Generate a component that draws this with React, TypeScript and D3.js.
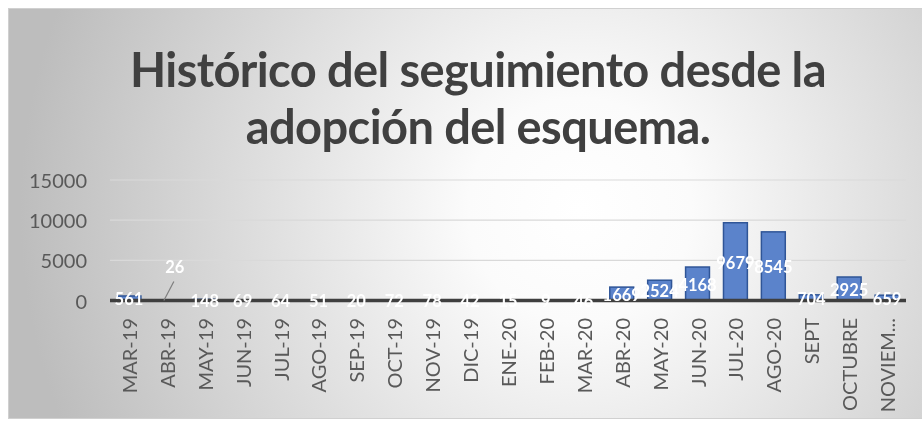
import React from 'react';
import * as d3 from 'd3';

const MONTHS = [
  'MAR-19', 'ABR-19', 'MAY-19', 'JUN-19', 'JUL-19', 'AGO-19', 'SEP-19', 'OCT-19',
  'NOV-19', 'DIC-19', 'ENE-20', 'FEB-20', 'MAR-20', 'ABR-20', 'MAY-20', 'JUN-20',
  'JUL-20', 'AGO-20', 'SEPT', 'OCTUBRE', 'NOVIEM...',
];

const SEGUIMIENTOS = [
  561, 26, 148, 69, 64, 51, 20, 72, 78, 42, 15, 9, 46, 1669, 2524, 4168,
  9679, 8545, 704, 2925, 659,
];

const Y_TICKS = [0, 5000, 10000, 15000];

const TITLE_LINES = ['Histórico del seguimiento desde la', 'adopción del esquema.'];

// labels pulled out of the bar with a leader line
const CALLOUTS = ['ABR-19'];

const FONT = 'Lato, "Open Sans", sans-serif';

export default function App() {
  const left = 110;
  const right = 906;
  const x = d3.scaleBand<string>()
    .domain(MONTHS)
    .range([left, right])
    .paddingInner(0.37)
    .paddingOuter(0.185);
  const y = d3.scaleLinear().domain([0, 15000]).range([300.5, 180]);
  const y0 = y(0);

  const bars = MONTHS.map((m, i) => {
    const v = SEGUIMIENTOS[i];
    return (
      <rect
        key={m}
        x={x(m)}
        y={y(v)}
        width={x.bandwidth()}
        height={y0 - y(v)}
        fill="#5B83CB"
        stroke="#2F5597"
        strokeWidth={1.5}
      />
    );
  });

  const labels = MONTHS.map((m, i) => {
    const v = SEGUIMIENTOS[i];
    const cx = (x(m) as number) + x.bandwidth() / 2;
    if (CALLOUTS.includes(m)) {
      return (
        <g key={m}>
          <line x1={cx - 3} y1={y0} x2={cx + 7} y2={y0 - 19} stroke="#7f7f7f" strokeWidth={1.2} />
          <text x={cx + 8} y={y0 - 34} textAnchor="middle" dominantBaseline="central"
            fill="#ffffff" fontWeight="bold" fontSize={16.5}>{v}</text>
        </g>
      );
    }
    return (
      <text key={m} x={cx} y={(y(v) + y0) / 2 + 1} textAnchor="middle" dominantBaseline="central"
        fill="#ffffff" fontWeight="bold" fontSize={16.5}>{v}</text>
    );
  });

  return (
    <div style={{ position: 'fixed', left: 0, top: 0, width: 922, height: 421 }}>
      <svg width={922} height={421} style={{ display: 'block', fontFamily: FONT }}>
        <defs>
          <radialGradient id="bg" gradientUnits="userSpaceOnUse" cx={580} cy={210} r={560}>
            <stop offset="0" stopColor="#ffffff" />
            <stop offset="0.2" stopColor="#fbfbfb" />
            <stop offset="1" stopColor="#bdbdbd" />
          </radialGradient>
        </defs>
        <rect x={8.5} y={8.5} width={920} height={410} fill="url(#bg)" stroke="#d0d0d0" />

        {TITLE_LINES.map((t, i) => (
          <text key={t} x={478} y={87 + i * 57} textAnchor="middle" fontSize={47}
            fontWeight="bold" fill="#404040" letterSpacing={-0.6}>{t}</text>
        ))}

        {Y_TICKS.map(t => (
          <g key={t}>
            {t > 0 && <line x1={left} x2={right} y1={y(t)} y2={y(t)} stroke="#d9d9d9" strokeWidth={1.2} />}
            <text x={87} y={y(t)} textAnchor="end" dominantBaseline="central" fontSize={20} fill="#595959">{t}</text>
          </g>
        ))}

        {bars}
        <line x1={left} x2={right} y1={y0} y2={y0} stroke="#3f3f3f" strokeWidth={3.5} />
        {labels}

        {MONTHS.map(m => {
          const cx = (x(m) as number) + x.bandwidth() / 2;
          return (
            <text key={m} transform={`translate(${cx},318) rotate(-90)`} textAnchor="end"
              dominantBaseline="central" fontSize={20} fill="#595959">{m}</text>
          );
        })}
      </svg>
    </div>
  );
}
